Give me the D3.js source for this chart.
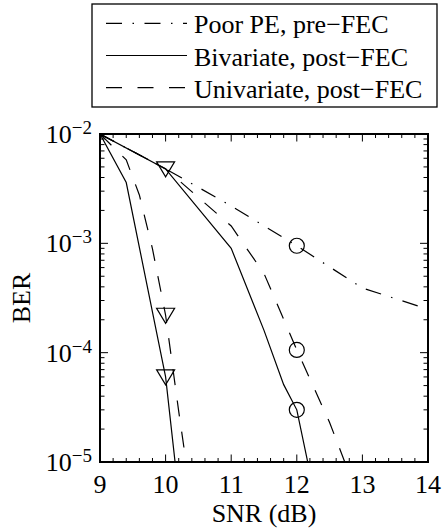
<!DOCTYPE html>
<html><head><meta charset="utf-8">
<script src="https://cdn.jsdelivr.net/npm/d3@7"></script>
<style>
html,body{margin:0;padding:0;background:#fff;}
</style></head>
<body>
<svg id="chart" width="443" height="529"></svg>
<script>
// ---- data ----
const seriesNames = ["Poor PE, pre\u2212FEC", "Bivariate, post\u2212FEC", "Univariate, post\u2212FEC"];
const poorSNR = [9, 10, 11, 12, 13, 14];
const poorBER = [1e-2, 4.8e-3, 2.2e-3, 9.5e-4, 3.9e-4, 2.5e-4];
const bivTriSNR = [9, 9.4, 10, 10.2];
const bivTriBER = [1e-2, 3.6e-3, 6.0e-5, 5e-6];
const uniTriSNR = [9, 9.4, 9.6, 9.8, 10, 10.2, 10.4];
const uniTriBER = [1e-2, 5.8e-3, 2.77e-3, 8.9e-4, 2.2e-4, 2.9e-5, 4.3e-6];
const bivCircSNR = [9, 10, 11, 11.5, 11.8, 12, 12.2];
const bivCircBER = [1e-2, 4.8e-3, 9e-4, 1.6e-4, 5.1e-5, 3.0e-5, 8e-6];
const uniCircSNR = [9, 10, 11, 11.5, 12, 12.5, 13];
const uniCircBER = [1e-2, 4.8e-3, 1.44e-3, 5.3e-4, 1.06e-4, 2.3e-5, 3.8e-6];
const triSNR = [10, 10, 10];
const triBER = [4.8e-3, 2.2e-4, 6.0e-5];
const circSNR = [12, 12, 12];
const circBER = [9.5e-4, 1.06e-4, 3.0e-5];
const xTicks = [9, 10, 11, 12, 13, 14];
const yTickExps = [-2, -3, -4, -5];

// ---- layout ----
const FONT = "'Liberation Serif'";
const svg = d3.select("#chart");
const L = 100, R = 428, T = 134, B = 462;
const x = d3.scaleLinear().domain([9, 14]).range([L, R]);
const y = d3.scaleLog().domain([1e-5, 1e-2]).range([B, T]);

const styles = {
  poor: "16,10.5,1.5,10.5",
  biv: null,
  uni: "16,15.5"
};

svg.append("clipPath").attr("id", "clip")
  .append("rect").attr("x", L).attr("y", T).attr("width", R - L).attr("height", B - T);

const line = d3.line().x(d => x(d[0])).y(d => y(d[1]));
const zip = (a, b) => a.map((v, i) => [v, b[i]]);

const g = svg.append("g").attr("clip-path", "url(#clip)");
const curves = [
  [poorSNR, poorBER, styles.poor],
  [bivTriSNR, bivTriBER, styles.biv],
  [uniTriSNR, uniTriBER, styles.uni],
  [bivCircSNR, bivCircBER, styles.biv],
  [uniCircSNR, uniCircBER, styles.uni]
];
curves.forEach(([xs, ys, dash]) => {
  g.append("path").attr("d", line(zip(xs, ys)))
    .attr("fill", "none").attr("stroke", "#000").attr("stroke-width", 1.2)
    .attr("stroke-dasharray", dash);
});

// markers
zip(triSNR, triBER).forEach(([a, b]) => {
  const cx = x(a), cy = y(b);
  svg.append("path")
    .attr("d", `M${cx - 9},${cy - 7}L${cx + 9},${cy - 7}L${cx},${cy + 8}Z`)
    .attr("fill", "none").attr("stroke", "#000").attr("stroke-width", 1.2);
});
zip(circSNR, circBER).forEach(([a, b]) => {
  svg.append("circle").attr("cx", x(a)).attr("cy", y(b)).attr("r", 7.5)
    .attr("fill", "none").attr("stroke", "#000").attr("stroke-width", 1.2);
});

// ticks
const tk = svg.append("g").attr("stroke", "#000").attr("stroke-width", 1);
const xMinor = d3.range(0, 26).map(i => 9 + i * 0.2);
xMinor.forEach(v => {
  const isMajor = Math.abs(v - Math.round(v)) < 1e-6;
  const len = isMajor ? 7.5 : 4;
  const px = x(v);
  tk.append("line").attr("x1", px).attr("x2", px).attr("y1", B).attr("y2", B - len);
  tk.append("line").attr("x1", px).attr("x2", px).attr("y1", T).attr("y2", T + len);
});
const yTickVals = [];
for (let e = -5; e <= -3; e++) for (let m = 1; m <= 9; m++) yTickVals.push(m * Math.pow(10, e));
yTickVals.push(1e-2);
yTickVals.forEach(v => {
  const m = Math.round(v / Math.pow(10, Math.floor(Math.log10(v) + 1e-9)));
  const len = m === 1 ? 8 : 4.5;
  const py = y(v);
  tk.append("line").attr("x1", L).attr("x2", L + len).attr("y1", py).attr("y2", py);
  tk.append("line").attr("x1", R).attr("x2", R - len).attr("y1", py).attr("y2", py);
});

// box
svg.append("rect").attr("x", L).attr("y", T).attr("width", R - L).attr("height", B - T)
  .attr("fill", "none").attr("stroke", "#000").attr("stroke-width", 2);

// tick labels
xTicks.forEach(v => {
  svg.append("text").attr("x", x(v)).attr("y", B + 31).attr("text-anchor", "middle")
    .attr("font-family", FONT).attr("font-size", 26).text(v);
});
yTickExps.forEach(e => {
  const t = svg.append("text").attr("x", 92).attr("y", y(Math.pow(10, e)) + 9)
    .attr("text-anchor", "end").attr("font-family", FONT).attr("font-size", 26);
  t.append("tspan").text("10");
  t.append("tspan").attr("dy", -9).attr("font-size", 19).text("\u2212" + (-e));
});

// axis labels
svg.append("text").attr("x", (L + R) / 2).attr("y", 522).attr("text-anchor", "middle")
  .attr("font-family", FONT).attr("font-size", 26).text("SNR (dB)");
svg.append("text").attr("transform", `translate(30,${(T + B) / 2}) rotate(-90)`)
  .attr("text-anchor", "middle").attr("font-family", FONT).attr("font-size", 26).text("BER");

// legend
svg.append("rect").attr("x", 92).attr("y", 4).attr("width", 345).attr("height", 103)
  .attr("fill", "#fff").attr("stroke", "#000").attr("stroke-width", 1.3);
const legDash = [styles.poor, styles.biv, styles.uni];
const rowY = [23.3, 55.5, 87.7];
seriesNames.forEach((name, i) => {
  svg.append("line").attr("x1", 106).attr("x2", 187).attr("y1", rowY[i]).attr("y2", rowY[i])
    .attr("stroke", "#000").attr("stroke-width", 1.2).attr("stroke-dasharray", legDash[i]);
  svg.append("text").attr("x", 194).attr("y", rowY[i] + 10)
    .attr("font-family", FONT).attr("font-size", 26).text(name);
});
</script>
</body></html>
